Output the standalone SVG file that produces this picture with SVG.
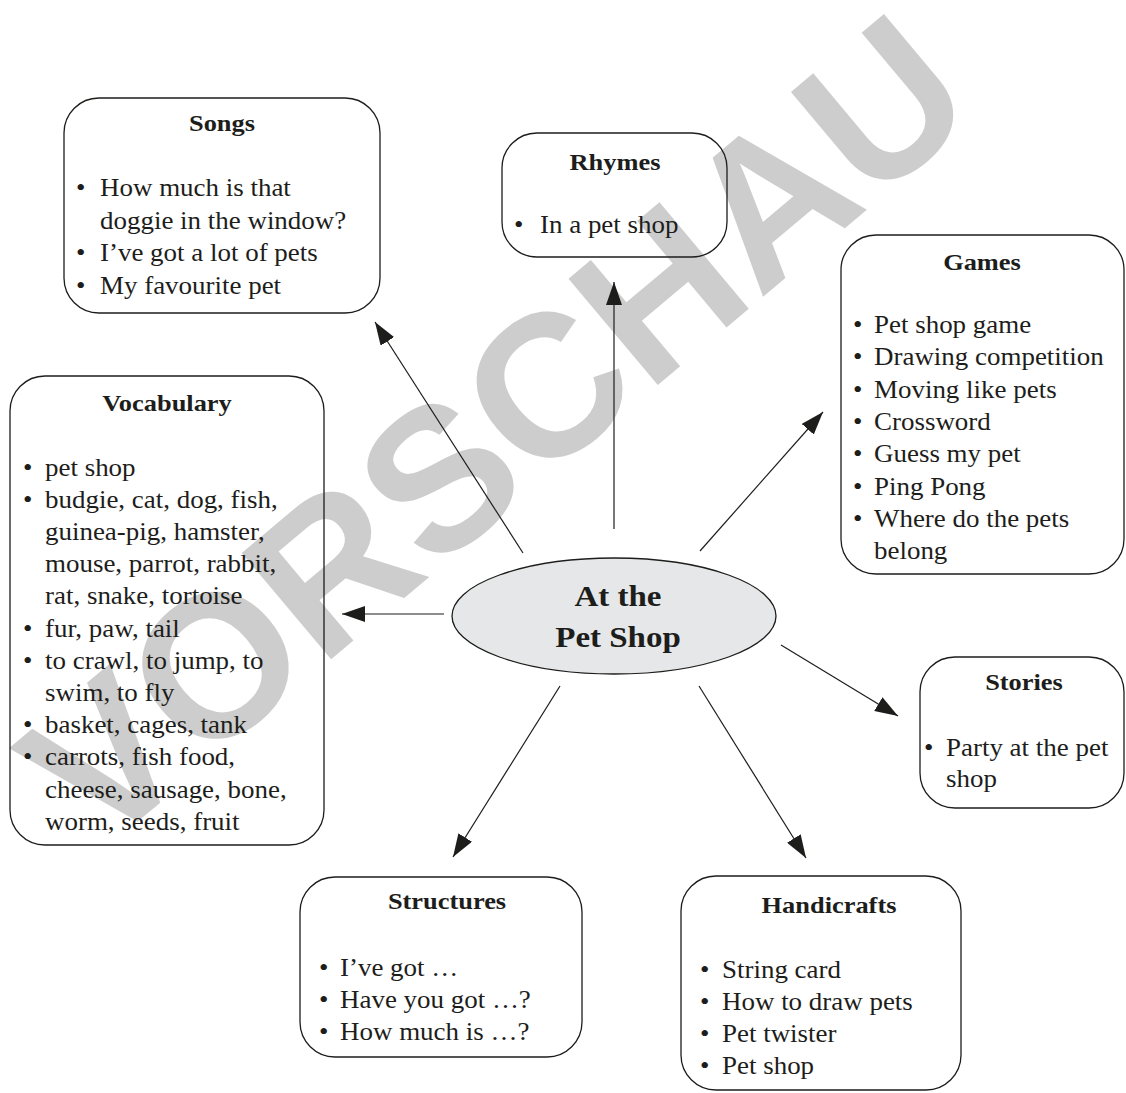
<svg xmlns="http://www.w3.org/2000/svg" width="1126" height="1093" viewBox="0 0 1126 1093">
<defs>
<style>
.box{fill:none;stroke:#1d1d1b;stroke-width:1.3}
.t{font-family:"Liberation Serif","Times New Roman",serif;font-size:24px;font-weight:bold;fill:#1d1d1b;text-anchor:middle}
.i{font-family:"Liberation Serif","Times New Roman",serif;font-size:24.5px;fill:#1d1d1b}
.c{fill:none;stroke:#1d1d1b;stroke-width:1.2}
.wm{font-family:"Liberation Sans",Arial,sans-serif;font-size:202px;font-weight:bold;fill:#cdcdcd;text-anchor:middle}
</style>
<marker id="ah" markerWidth="23" markerHeight="16" refX="23" refY="8" orient="auto" markerUnits="userSpaceOnUse">
<path d="M0,0 L23,8 L0,16 z" fill="#1d1d1b"/>
</marker>
</defs>
<rect width="1126" height="1093" fill="#ffffff"/>
<text class="wm" x="540" y="484" transform="rotate(-40 540 484)">VORSCHAU</text>

<g id="connectors">
<line class="c" x1="523" y1="553" x2="375" y2="322" marker-end="url(#ah)"/>
<line class="c" x1="614" y1="529" x2="614" y2="282" marker-end="url(#ah)"/>
<line class="c" x1="700" y1="551" x2="823" y2="412" marker-end="url(#ah)"/>
<line class="c" x1="444" y1="614" x2="342" y2="614" marker-end="url(#ah)"/>
<line class="c" x1="781" y1="645" x2="898" y2="716" marker-end="url(#ah)"/>
<line class="c" x1="560" y1="686" x2="453" y2="857" marker-end="url(#ah)"/>
<line class="c" x1="699" y1="686" x2="806" y2="858" marker-end="url(#ah)"/>
</g>

<g id="center">
<ellipse cx="614" cy="616" rx="162" ry="58" fill="#e6e7e8" stroke="#1d1d1b" stroke-width="1.3"/>
<text class="t" style="font-size:30px" transform="translate(618 606) scale(1.1 1)">At the</text>
<text class="t" style="font-size:30px" transform="translate(618 647) scale(1.1 1)">Pet Shop</text>
</g>

<g id="songs">
<rect class="box" x="64" y="98" width="316" height="215" rx="35"/>
<text class="t" transform="translate(222 131) scale(1.1 1)">Songs</text>
<text class="i" transform="translate(76 196) scale(1.1 1)">•</text>
<text class="i" transform="translate(100 196) scale(1.1 1)">How much is that</text>
<text class="i" transform="translate(100 228.5) scale(1.1 1)">doggie in the window?</text>
<text class="i" transform="translate(76 261) scale(1.1 1)">•</text>
<text class="i" transform="translate(100 261) scale(1.1 1)">I’ve got a lot of pets</text>
<text class="i" transform="translate(76 293.5) scale(1.1 1)">•</text>
<text class="i" transform="translate(100 293.5) scale(1.1 1)">My favourite pet</text>
</g>

<g id="rhymes">
<rect class="box" x="502" y="133" width="225" height="124" rx="35"/>
<text class="t" transform="translate(615 170) scale(1.1 1)">Rhymes</text>
<text class="i" transform="translate(514 233) scale(1.1 1)">•</text>
<text class="i" transform="translate(540 233) scale(1.1 1)">In a pet shop</text>
</g>

<g id="games">
<rect class="box" x="841" y="235" width="283" height="339" rx="35"/>
<text class="t" transform="translate(982 270) scale(1.1 1)">Games</text>
<text class="i" transform="translate(853 333) scale(1.1 1)">•</text>
<text class="i" transform="translate(874 333) scale(1.1 1)">Pet shop game</text>
<text class="i" transform="translate(853 365.3) scale(1.1 1)">•</text>
<text class="i" transform="translate(874 365.3) scale(1.1 1)">Drawing competition</text>
<text class="i" transform="translate(853 397.6) scale(1.1 1)">•</text>
<text class="i" transform="translate(874 397.6) scale(1.1 1)">Moving like pets</text>
<text class="i" transform="translate(853 429.9) scale(1.1 1)">•</text>
<text class="i" transform="translate(874 429.9) scale(1.1 1)">Crossword</text>
<text class="i" transform="translate(853 462.2) scale(1.1 1)">•</text>
<text class="i" transform="translate(874 462.2) scale(1.1 1)">Guess my pet</text>
<text class="i" transform="translate(853 494.5) scale(1.1 1)">•</text>
<text class="i" transform="translate(874 494.5) scale(1.1 1)">Ping Pong</text>
<text class="i" transform="translate(853 526.8) scale(1.1 1)">•</text>
<text class="i" transform="translate(874 526.8) scale(1.1 1)">Where do the pets</text>
<text class="i" transform="translate(874 559.1) scale(1.1 1)">belong</text>
</g>

<g id="vocabulary">
<rect class="box" x="10" y="376" width="314" height="469" rx="35"/>
<text class="t" transform="translate(167 411) scale(1.1 1)">Vocabulary</text>
<text class="i" transform="translate(23 475.5) scale(1.1 1)">•</text>
<text class="i" transform="translate(45 475.5) scale(1.1 1)">pet shop</text>
<text class="i" transform="translate(23 507.7) scale(1.1 1)">•</text>
<text class="i" transform="translate(45 507.7) scale(1.1 1)">budgie, cat, dog, fish,</text>
<text class="i" transform="translate(45 539.9) scale(1.1 1)">guinea-pig, hamster,</text>
<text class="i" transform="translate(45 572.1) scale(1.1 1)">mouse, parrot, rabbit,</text>
<text class="i" transform="translate(45 604.3) scale(1.1 1)">rat, snake, tortoise</text>
<text class="i" transform="translate(23 636.5) scale(1.1 1)">•</text>
<text class="i" transform="translate(45 636.5) scale(1.1 1)">fur, paw, tail</text>
<text class="i" transform="translate(23 668.7) scale(1.1 1)">•</text>
<text class="i" transform="translate(45 668.7) scale(1.1 1)">to crawl, to jump, to</text>
<text class="i" transform="translate(45 700.9) scale(1.1 1)">swim, to fly</text>
<text class="i" transform="translate(23 733.1) scale(1.1 1)">•</text>
<text class="i" transform="translate(45 733.1) scale(1.1 1)">basket, cages, tank</text>
<text class="i" transform="translate(23 765.3) scale(1.1 1)">•</text>
<text class="i" transform="translate(45 765.3) scale(1.1 1)">carrots, fish food,</text>
<text class="i" transform="translate(45 797.5) scale(1.1 1)">cheese, sausage, bone,</text>
<text class="i" transform="translate(45 829.7) scale(1.1 1)">worm, seeds, fruit</text>
</g>

<g id="stories">
<rect class="box" x="920" y="657" width="204" height="151" rx="35"/>
<text class="t" transform="translate(1024 690) scale(1.1 1)">Stories</text>
<text class="i" transform="translate(924 756) scale(1.1 1)">•</text>
<text class="i" transform="translate(946 756) scale(1.1 1)">Party at the pet</text>
<text class="i" transform="translate(946 787) scale(1.1 1)">shop</text>
</g>

<g id="structures">
<rect class="box" x="300" y="877" width="282" height="180" rx="35"/>
<text class="t" transform="translate(447 909) scale(1.1 1)">Structures</text>
<text class="i" transform="translate(319 976) scale(1.1 1)">•</text>
<text class="i" transform="translate(340 976) scale(1.1 1)">I’ve got …</text>
<text class="i" transform="translate(319 1008) scale(1.1 1)">•</text>
<text class="i" transform="translate(340 1008) scale(1.1 1)">Have you got …?</text>
<text class="i" transform="translate(319 1040) scale(1.1 1)">•</text>
<text class="i" transform="translate(340 1040) scale(1.1 1)">How much is …?</text>
</g>

<g id="handicrafts">
<rect class="box" x="681" y="876" width="280" height="214" rx="35"/>
<text class="t" transform="translate(829 913) scale(1.1 1)">Handicrafts</text>
<text class="i" transform="translate(700 977.5) scale(1.1 1)">•</text>
<text class="i" transform="translate(722 977.5) scale(1.1 1)">String card</text>
<text class="i" transform="translate(700 1009.8) scale(1.1 1)">•</text>
<text class="i" transform="translate(722 1009.8) scale(1.1 1)">How to draw pets</text>
<text class="i" transform="translate(700 1042) scale(1.1 1)">•</text>
<text class="i" transform="translate(722 1042) scale(1.1 1)">Pet twister</text>
<text class="i" transform="translate(700 1074.3) scale(1.1 1)">•</text>
<text class="i" transform="translate(722 1074.3) scale(1.1 1)">Pet shop</text>
</g>
</svg>
